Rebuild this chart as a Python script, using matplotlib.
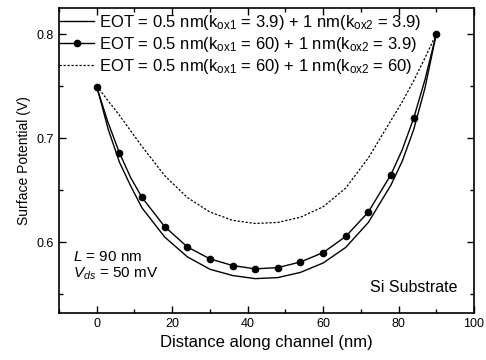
import matplotlib
matplotlib.use("Agg")
import matplotlib.pyplot as plt
from matplotlib.ticker import MultipleLocator

plt.rcParams['font.family'] = ['Liberation Sans', 'DejaVu Sans']
plt.rcParams['mathtext.fontset'] = 'custom'
plt.rcParams['mathtext.rm'] = 'Liberation Sans'
plt.rcParams['mathtext.it'] = 'Liberation Sans:italic'

# distance along channel (nm)
x = [0, 3, 6, 9, 12, 18, 24, 30, 36, 42, 48, 54, 60, 66, 72, 78, 81, 84, 87, 90]

# surface potential (V)
psi_39_39 = [0.750, 0.709, 0.677, 0.654, 0.633, 0.605, 0.586, 0.574, 0.568, 0.565,
             0.566, 0.571, 0.580, 0.595, 0.619, 0.655, 0.678, 0.708, 0.748, 0.800]
psi_60_39 = [0.749, 0.715, 0.686, 0.662, 0.643, 0.615, 0.5955, 0.584, 0.5776, 0.5744,
             0.5756, 0.581, 0.590, 0.6055, 0.629, 0.665, 0.689, 0.719, 0.756, 0.800]
psi_60_60 = [0.750, 0.736, 0.722, 0.707, 0.692, 0.664, 0.643, 0.629, 0.621, 0.618,
             0.619, 0.624, 0.634, 0.652, 0.681, 0.717, 0.735, 0.755, 0.777, 0.800]

labels = [
    r'EOT = 0.5 nm(k$_{\mathrm{ox1}}$ = 3.9) + 1 nm(k$_{\mathrm{ox2}}$ = 3.9)',
    r'EOT = 0.5 nm(k$_{\mathrm{ox1}}$ = 60) + 1 nm(k$_{\mathrm{ox2}}$ = 3.9)',
    r'EOT = 0.5 nm(k$_{\mathrm{ox1}}$ = 60) + 1 nm(k$_{\mathrm{ox2}}$ = 60)',
]

fig = plt.figure(figsize=(4.86, 3.6), dpi=100)
ax = fig.add_axes([0.1214, 0.1306, 0.8539, 0.8472])

marks = [i for i, v in enumerate(x) if v % 6 == 0]
ax.plot(x, psi_39_39, '-', color='black', lw=1.0, label=labels[0])
ax.plot(x, psi_60_39, '-', color='black', lw=1.0, marker='o', ms=4.5,
        markevery=marks, label=labels[1])
ax.plot(x, psi_60_60, '--', color='black', lw=0.9, dashes=(1.8, 1.4), label=labels[2])

ax.set_xlim(-10, 100)
ax.set_ylim(0.532, 0.825)
ax.xaxis.set_major_locator(MultipleLocator(20))
ax.xaxis.set_minor_locator(MultipleLocator(10))
ax.yaxis.set_major_locator(MultipleLocator(0.1))
ax.yaxis.set_minor_locator(MultipleLocator(0.05))
ax.tick_params(which='both', direction='in', top=True, right=True,
               labelsize=9, width=1.0)
ax.tick_params(which='major', length=5)
ax.tick_params(which='minor', length=3)
for s in ax.spines.values():
    s.set_linewidth(1.2)

ax.set_xlabel('Distance along channel (nm)', fontsize=12)
ax.set_ylabel('Surface Potential (V)', fontsize=10)
ax.xaxis.set_label_coords(0.5, -0.072)
ax.yaxis.set_label_coords(-0.068, 0.5)

ax.legend(loc='upper left', bbox_to_anchor=(0.0, 0.984), frameon=False,
          fontsize=12, handlelength=2.1, handletextpad=0.3,
          labelspacing=0.17, borderpad=0, borderaxespad=0)

ax.text(0.034, 0.183, r'$\mathit{L}$ = 90 nm', transform=ax.transAxes,
        fontsize=11, va='center')
ax.text(0.034, 0.13, r'$\mathit{V_{ds}}$ = 50 mV', transform=ax.transAxes,
        fontsize=11, va='center')
ax.text(0.961, 0.082, 'Si Substrate', transform=ax.transAxes,
        fontsize=11.5, va='center', ha='right')

fig.savefig('out.png', dpi=100)
